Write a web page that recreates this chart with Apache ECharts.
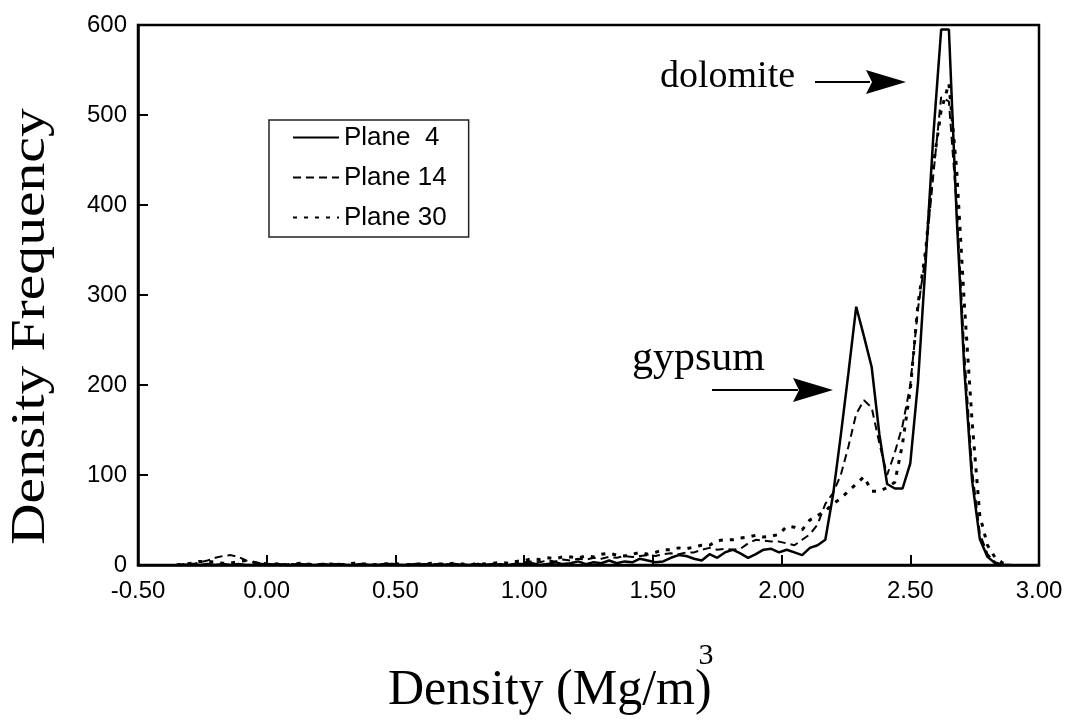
<!DOCTYPE html>
<html>
<head>
<meta charset="utf-8">
<script src="https://cdn.jsdelivr.net/npm/echarts@6/dist/echarts.min.js"></script>
<style>
  html, body { margin: 0; padding: 0; background: #fff; }
  #chart { width: 1073px; height: 721px; }
</style>
</head>
<body>
<div id="chart"></div>
<script>
// Density bins (Mg/m^3)
const density = [
  -0.35, -0.32, -0.29, -0.26, -0.23, -0.20, -0.17, -0.14, -0.11, -0.08, -0.05, -0.02,
  0.01, 0.04, 0.07, 0.10, 0.13, 0.16, 0.19, 0.22, 0.25, 0.28, 0.31,
  0.34, 0.37, 0.40, 0.43, 0.46, 0.49, 0.52, 0.55, 0.58, 0.61, 0.64,
  0.67, 0.70, 0.73, 0.76, 0.79, 0.82, 0.85, 0.88, 0.91, 0.94, 0.97,
  1.00, 1.03, 1.06, 1.09, 1.12, 1.15, 1.18, 1.21, 1.24, 1.27, 1.30, 1.33, 1.36, 1.39, 1.42,
  1.45, 1.48, 1.51, 1.54, 1.57, 1.60, 1.63, 1.66, 1.69, 1.72, 1.75, 1.78, 1.81, 1.84, 1.87,
  1.90, 1.93, 1.96, 1.99, 2.02, 2.05, 2.08, 2.11, 2.14, 2.17,
  2.20, 2.23, 2.26, 2.29, 2.32, 2.35, 2.38, 2.41, 2.44, 2.47, 2.50, 2.53, 2.56, 2.59,
  2.62, 2.65, 2.68, 2.71, 2.74, 2.77, 2.80, 2.83, 2.86, 2.89
];

// Frequency per bin, one array per scanned plane
const plane4 = [
  0, 0, 1, 0, 1, 0, 1, 0, 1, 0, 0, 1,
  0, 1, 0, 0, 1, 0, 0, 1, 0, 1, 0,
  0, 1, 0, 0, 1, 1, 0, 0, 1, 0, 0,
  1, 0, 1, 0, 0, 1, 0, 1, 0, 0, 1,
  1, 2, 0, 1, 3, 1, 2, 4, 1, 3, 2, 5, 2, 4, 3,
  7, 5, 3, 4, 8, 11, 10, 7, 5, 12, 8, 14, 17, 13, 8,
  12, 17, 18, 14, 17, 14, 11, 19, 22, 28,
  78, 144, 214, 287, 254, 220, 145, 90, 85, 85, 113, 203, 338, 479,
  595, 595, 388, 217, 94, 29, 9, 2, 0, 0
];
const plane14 = [
  0, 1, 1, 3, 5, 8, 10, 11, 9, 5, 3, 2,
  1, 0, 1, 1, 0, 1, 0, 0, 1, 1, 0,
  0, 1, 0, 1, 1, 0, 0, 1, 0, 1, 1,
  0, 1, 0, 0, 1, 1, 0, 1, 1, 0, 2,
  3, 4, 3, 5, 4, 6, 5, 7, 6, 8, 7, 9, 8, 10, 9,
  10, 11, 10, 12, 13, 12, 14, 14, 17, 19, 17, 18, 17, 18, 24,
  28, 27, 26, 26, 24, 22, 28, 34, 45, 68,
  80, 100, 132, 168, 183, 175, 135, 100, 125, 155, 200, 285, 345, 435,
  520, 515, 400, 235, 105, 35, 12, 3, 0, 0
];
const plane30 = [
  0, 1, 2, 4, 4, 3, 2, 2, 4, 5, 3, 2,
  1, 1, 0, 1, 2, 1, 0, 1, 1, 0, 1,
  2, 1, 1, 0, 1, 2, 1, 0, 1, 1, 2,
  1, 1, 2, 1, 0, 2, 1, 2, 3, 2, 4,
  5, 7, 6, 8, 7, 9, 9, 8, 10, 9, 12, 13, 11, 10, 12,
  14, 12, 14, 17, 17, 19, 18, 20, 22, 22, 27, 28, 28, 30, 31,
  33, 31, 32, 34, 43, 42, 39, 50, 55, 60,
  68, 74, 82, 90, 98, 82, 82, 86, 92, 135, 195, 290, 350, 445,
  505, 535, 440, 290, 160, 55, 22, 8, 2, 0
];

const seriesNames = ['Plane  4', 'Plane 14', 'Plane 30'];
const xTicks = { min: -0.5, max: 3.0, step: 0.5 };
const yTicks = { min: 0, max: 600, step: 100 };

const SANS = "'Liberation Sans', Arial, sans-serif";
const SERIF = "'Liberation Serif', 'Times New Roman', serif";

const pairs = (vals) => density.map((d, i) => [d, vals[i]]);

const chart = echarts.init(document.getElementById('chart'), null, { renderer: 'canvas' });

const axisLabelBase = { color: '#000', fontSize: 24, fontFamily: SANS };
const axisLineBase = { show: true, onZero: false, lineStyle: { color: '#000', width: 2.5 } };
const axisTickBase = { show: true, inside: true, length: 10, lineStyle: { color: '#000', width: 2 } };

chart.setOption({
  animation: false,
  backgroundColor: '#fff',
  grid: { left: 138, right: 34, top: 25, bottom: 156, show: true, borderColor: '#000', borderWidth: 2.5, backgroundColor: 'transparent' },
  xAxis: {
    type: 'value', min: xTicks.min, max: xTicks.max, interval: xTicks.step,
    axisLine: axisLineBase, axisTick: axisTickBase, splitLine: { show: false },
    axisLabel: Object.assign({}, axisLabelBase, { margin: 14, formatter: v => v.toFixed(2) })
  },
  yAxis: {
    type: 'value', min: yTicks.min, max: yTicks.max, interval: yTicks.step,
    axisLine: axisLineBase, axisTick: axisTickBase, splitLine: { show: false },
    axisLabel: Object.assign({}, axisLabelBase, { margin: 11 })
  },
  legend: {
    data: seriesNames,
    orient: 'vertical',
    left: 269, top: 120,
    padding: [4, 22, 6, 23],
    itemWidth: 46, itemHeight: 14, itemGap: 13,
    borderColor: '#222', borderWidth: 1.5,
    itemStyle: { color: 'rgba(0,0,0,0)', borderWidth: 0, opacity: 0 },
    textStyle: { color: '#000', fontSize: 26, fontFamily: SANS, lineHeight: 27 }
  },
  series: [
    {
      name: seriesNames[2], type: 'line', data: pairs(plane30), z: 2,
      symbol: 'none', showSymbol: false, color: '#000',
      lineStyle: { color: '#000', width: 3, type: [4, 7] }
    },
    {
      name: seriesNames[1], type: 'line', data: pairs(plane14), z: 3,
      symbol: 'none', showSymbol: false, color: '#000',
      lineStyle: { color: '#000', width: 2, type: [8, 5] }
    },
    {
      name: seriesNames[0], type: 'line', data: pairs(plane4), z: 4,
      symbol: 'none', showSymbol: false, color: '#000',
      lineStyle: { color: '#000', width: 2.5, type: 'solid' }
    }
  ],
  graphic: [
    // axis titles
    { type: 'text', x: 388, y: 691, style: { text: 'Density (Mg/m)', font: '50px ' + SERIF, fill: '#000', align: 'left', verticalAlign: 'middle' } },
    { type: 'text', x: 706, y: 656, style: { text: '3', font: '30px ' + SERIF, fill: '#000', align: 'center', verticalAlign: 'middle' } },
    { type: 'text', x: 31, y: 545, rotation: Math.PI / 2, scaleX: 1.2, style: { text: 'Density Frequency', font: '48px ' + SERIF, fill: '#000', align: 'left', verticalAlign: 'middle' } },
    // annotations
    { type: 'text', x: 660, y: 77, style: { text: 'dolomite', font: '38px ' + SERIF, fill: '#000', align: 'left', verticalAlign: 'middle' } },
    { type: 'line', shape: { x1: 815, y1: 82, x2: 870, y2: 82 }, style: { stroke: '#000', lineWidth: 2 } },
    { type: 'polygon', shape: { points: [[906, 82], [866, 70], [872, 82], [866, 94]] }, style: { fill: '#000' } },
    { type: 'text', x: 632, y: 359, style: { text: 'gypsum', font: '42px ' + SERIF, fill: '#000', align: 'left', verticalAlign: 'middle' } },
    { type: 'line', shape: { x1: 712, y1: 390, x2: 798, y2: 390 }, style: { stroke: '#000', lineWidth: 2 } },
    { type: 'polygon', shape: { points: [[833, 390], [793, 378], [799, 390], [793, 402]] }, style: { fill: '#000' } }
  ]
});
</script>
</body>
</html>
